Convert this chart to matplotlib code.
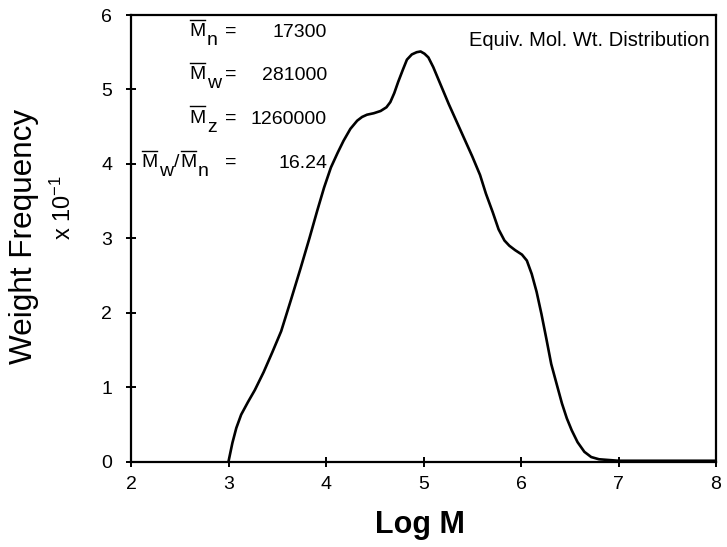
import matplotlib
matplotlib.use("Agg")
import matplotlib.pyplot as plt
from matplotlib.lines import Line2D

plt.rcParams['font.family'] = ['Liberation Sans', 'DejaVu Sans']
plt.rcParams['mathtext.fontset'] = 'custom'
plt.rcParams['mathtext.rm'] = 'Liberation Sans'
plt.rcParams['mathtext.it'] = 'Liberation Sans'

log_m = [3.00, 3.04, 3.08, 3.13, 3.20, 3.27, 3.36, 3.45, 3.54, 3.64, 3.74, 3.83,
         3.91, 3.98, 4.05, 4.12, 4.18, 4.25, 4.32, 4.37, 4.42, 4.49, 4.56, 4.62,
         4.66, 4.70, 4.74, 4.79, 4.83, 4.88, 4.93, 4.97, 5.01, 5.05, 5.10, 5.18,
         5.26, 5.38, 5.50, 5.58, 5.64, 5.71, 5.77, 5.83, 5.88, 5.94, 6.01, 6.06,
         6.11, 6.16, 6.21, 6.26, 6.31, 6.37, 6.42, 6.47, 6.52, 6.58, 6.65, 6.72,
         6.80, 6.90, 7.00, 7.50, 8.00]
weight_freq = [0.00, 0.25, 0.45, 0.63, 0.80, 0.96, 1.20, 1.47, 1.75, 2.17, 2.60, 3.00,
               3.37, 3.68, 3.95, 4.15, 4.31, 4.47, 4.58, 4.63, 4.66, 4.68, 4.71, 4.76,
               4.83, 4.95, 5.10, 5.27, 5.40, 5.47, 5.50, 5.51, 5.48, 5.43, 5.30, 5.05,
               4.80, 4.45, 4.10, 3.85, 3.60, 3.35, 3.12, 2.97, 2.90, 2.84, 2.78, 2.70,
               2.52, 2.28, 1.98, 1.65, 1.31, 1.02, 0.78, 0.58, 0.42, 0.26, 0.13, 0.06,
               0.03, 0.02, 0.01, 0.01, 0.01]

x_ticks = [2, 3, 4, 5, 6, 7, 8]
y_ticks = [0, 1, 2, 3, 4, 5, 6]

# statistics: list of (M-subscript pieces) and values
stat_parts = [[('M', 'n')], [('M', 'w')], [('M', 'z')], [('M', 'w'), ('M', 'n')]]
stat_values = ['17300', '281000', '1260000', '16.24']

W, H = 727, 547
L, R, B, T = 131, 716, 461.5, 15
fig = plt.figure(figsize=(W/100, H/100), dpi=100)
ax = fig.add_axes([L/W, 1-B/H, (R-L)/W, (B-T)/H])

ax.plot(log_m, weight_freq, color='black', lw=1.9, solid_joinstyle='round')

ax.set_xlim(2, 8)
ax.set_ylim(0, 6)
ax.set_xticks(x_ticks)
ax.set_yticks(y_ticks)
ax.tick_params(direction='inout', length=7, width=1.4, labelsize=14, colors='black')
ax.tick_params(axis='x', pad=7)
ax.tick_params(axis='y', pad=10)
for s in ax.spines.values():
    s.set_linewidth(1.6)


def fx(px):
    return px / W


def fy(py):
    return 1 - py / H


# axis labels
fig.text(fx(24), fy(236), 'Weight Frequency', rotation=90, fontsize=22.7,
         ha='center', va='center')
fig.text(fx(63), fy(208), r'x 10$^{\mathrm{-1}}$', rotation=90, fontsize=17,
         ha='center', va='center')
fig.text(fx(420), fy(525), 'Log M', fontsize=22, fontweight='bold',
         ha='center', va='center')

# statistics block
row_base = [37, 80, 124, 168]   # baseline pixel rows of values
fs = 14
sub_fs = 14
fig.canvas.draw()
renderer = fig.canvas.get_renderer()
for parts, val, base in zip(stat_parts, stat_values, row_base):
    fig.text(fx(327), fy(base), val, fontsize=fs, ha='right', va='baseline')
    fig.text(fx(231), fy(base - 1), '=', fontsize=fs, ha='center', va='baseline')
    x = 189 if len(parts) == 1 else 141
    for i, (m, sub) in enumerate(parts):
        if i > 0:
            t = fig.text(fx(x + 1), fy(base - 1), '/', fontsize=fs, ha='left', va='baseline')
            bb = t.get_window_extent(renderer)
            x = x + 1 + bb.width + 1
        t = fig.text(fx(x), fy(base - 1), m, fontsize=fs, ha='left', va='baseline')
        bb = t.get_window_extent(renderer)
        mw = bb.width
        top = base - 1 - 14
        fig.add_artist(Line2D([fx(x + 1), fx(x + mw - 0.5)], [fy(top - 2.5), fy(top - 2.5)],
                              color='black', lw=1.0, transform=fig.transFigure))
        x = x + mw + 1.5
        t = fig.text(fx(x), fy(base + 8), sub, fontsize=sub_fs, ha='left', va='baseline')
        bb = t.get_window_extent(renderer)
        x = x + bb.width

fig.text(fx(710), fy(40), 'Equiv. Mol. Wt. Distribution', fontsize=14.5,
         ha='right', va='center')

fig.savefig('out.png', dpi=100)
